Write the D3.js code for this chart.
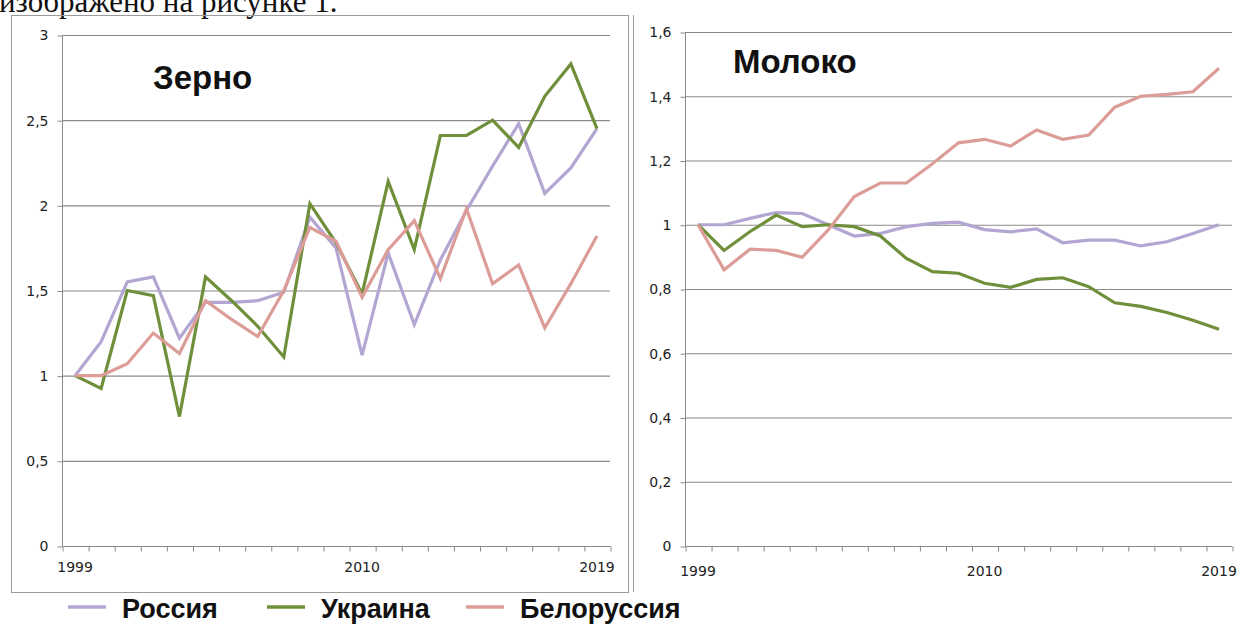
<!DOCTYPE html>
<html>
<head>
<meta charset="utf-8">
<script src="https://cdn.jsdelivr.net/npm/d3@7"></script>
<style>
  body { margin: 0; background: #fff; }
  svg { display: block; }
  .tick text { font-family: "DejaVu Sans", Verdana, sans-serif; font-size: 14px; fill: #222; }
</style>
</head>
<body>
<svg id="chart" width="1243" height="626"></svg>
<script>
// годы 1999..2019
const years = d3.range(1999, 2020).map(String);
const yearLabels = ['1999', '2010', '2019'];

// Зерно
const grainRussia = [1.0, 1.2, 1.55, 1.58, 1.22, 1.43, 1.43, 1.44, 1.49, 1.93, 1.75, 1.12, 1.72, 1.3, 1.68, 1.97, 2.23, 2.48, 2.07, 2.22, 2.45];
const grainUkraine = [1.0, 0.925, 1.5, 1.47, 0.76, 1.58, 1.44, 1.29, 1.11, 2.01, 1.78, 1.48, 2.14, 1.74, 2.41, 2.41, 2.5, 2.34, 2.64, 2.83, 2.45];
const grainBelarus = [1.0, 1.0, 1.07, 1.25, 1.13, 1.44, 1.33, 1.23, 1.5, 1.87, 1.79, 1.46, 1.74, 1.91, 1.57, 1.98, 1.54, 1.65, 1.28, 1.54, 1.82];
const grainTicks = [0, 0.5, 1, 1.5, 2, 2.5, 3];

// Молоко
const milkRussia = [1.0, 1.0, 1.02, 1.038, 1.035, 1.0, 0.965, 0.973, 0.994, 1.004, 1.008, 0.985, 0.978, 0.987, 0.944, 0.952, 0.952, 0.934, 0.947, 0.973, 1.0];
const milkUkraine = [1.0, 0.92, 0.979, 1.03, 0.994, 1.0, 0.994, 0.965, 0.895, 0.854, 0.849, 0.818, 0.805, 0.83, 0.835, 0.807, 0.757, 0.746, 0.727, 0.703, 0.675];
const milkBelarus = [1.0, 0.86, 0.924, 0.92, 0.899, 0.984, 1.088, 1.13, 1.13, 1.19, 1.255, 1.266, 1.245, 1.295, 1.266, 1.279, 1.366, 1.4, 1.406, 1.414, 1.487];
const milkTicks = [0, 0.2, 0.4, 0.6, 0.8, 1, 1.2, 1.4, 1.6];

const seriesNames = ['Россия', 'Украина', 'Белоруссия'];
const seriesColors = ['#b3a6d2', '#6f8f3a', '#dc9c98'];

const svg = d3.select('#chart');
const fmt = d => String(d).replace('.', ',');

// обрезанная строка текста сверху
svg.append('text')
  .attr('x', -1)
  .attr('y', 12)
  .attr('font-family', '"Liberation Serif", "Times New Roman", serif')
  .attr('font-size', 31)
  .attr('fill', '#111')
  .text('изображено на рисунке 1.');

// рамки
svg.append('rect')
  .attr('x', 11.5).attr('y', 15.5)
  .attr('width', 617).attr('height', 577)
  .attr('fill', 'none').attr('stroke', '#9a9a9a');
svg.append('line')
  .attr('x1', 633.5).attr('x2', 633.5).attr('y1', 15).attr('y2', 592)
  .attr('stroke', '#9a9a9a');

function drawPanel(p) {
  const x = d3.scaleBand().domain(years).range([p.left, p.right]);
  const xi = d3.scaleLinear().domain([0, years.length]).range([p.left, p.right]);
  const y = d3.scaleLinear().domain([0, p.max]).range([p.bottom, p.top]);

  const g = svg.append('g');

  // сетка
  g.selectAll('.grid')
    .data(p.ticks.filter(d => d > 0))
    .enter()
    .append('line')
    .attr('x1', p.left).attr('x2', p.right)
    .attr('y1', d => y(d) + 0.5).attr('y2', d => y(d) + 0.5)
    .attr('stroke', '#8a8a8a').attr('stroke-width', 1.2);

  // ось Y
  const ay = g.append('g')
    .attr('transform', `translate(${p.left + 0.5},0.5)`)
    .call(d3.axisLeft(y).tickValues(p.ticks).tickSize(5).tickPadding(9).tickFormat(fmt));
  ay.selectAll('line, path').attr('stroke', '#8a8a8a');
  ay.select('.domain').attr('d', `M0,${p.bottom}V${p.top}`);

  // ось X: засечки между категориями
  const ax = g.append('g')
    .attr('transform', `translate(0.5,${p.bottom + 0.5})`)
    .call(d3.axisBottom(xi).tickValues(d3.range(0, years.length + 1)).tickSize(5).tickFormat(() => ''));
  ax.selectAll('line, path').attr('stroke', '#8a8a8a');
  ax.select('.domain').attr('d', `M${p.left},0H${p.right}`);

  g.append('g')
    .attr('transform', `translate(0,${p.bottom})`)
    .call(d3.axisBottom(x).tickValues(yearLabels).tickSize(0).tickPadding(p.labelPad))
    .call(s => s.select('.domain').remove());

  const line = d3.line()
    .x((d, i) => x(years[i]) + x.bandwidth() / 2)
    .y(d => y(d));

  p.series.forEach((s, k) => {
    g.append('path')
      .datum(s)
      .attr('fill', 'none')
      .attr('stroke', seriesColors[k])
      .attr('stroke-width', 3.2)
      .attr('stroke-linejoin', 'miter')
      .attr('d', line);
  });

  g.append('text')
    .attr('x', p.titleX).attr('y', p.titleY)
    .attr('font-family', '"Liberation Sans", Arial, sans-serif')
    .attr('font-weight', 'bold')
    .attr('font-size', 33)
    .attr('fill', '#111')
    .text(p.title);
}

drawPanel({
  left: 62, right: 610, top: 35, bottom: 546, max: 3,
  ticks: grainTicks, labelPad: 16,
  series: [grainRussia, grainUkraine, grainBelarus],
  title: 'Зерно', titleX: 153, titleY: 89
});

drawPanel({
  left: 685, right: 1232, top: 32, bottom: 546, max: 1.6,
  ticks: milkTicks, labelPad: 20,
  series: [milkRussia, milkUkraine, milkBelarus],
  title: 'Молоко', titleX: 733, titleY: 73
});

// легенда
const legendX = [68, 267, 466];
const legend = svg.append('g');
seriesNames.forEach((name, k) => {
  legend.append('line')
    .attr('x1', legendX[k]).attr('x2', legendX[k] + 38)
    .attr('y1', 607).attr('y2', 607)
    .attr('stroke', seriesColors[k]).attr('stroke-width', 3.5);
  legend.append('text')
    .attr('x', legendX[k] + 54).attr('y', 618)
    .attr('font-family', '"Liberation Sans", Arial, sans-serif')
    .attr('font-weight', 'bold')
    .attr('font-size', 27)
    .attr('fill', '#111')
    .text(name);
});
</script>
</body>
</html>
